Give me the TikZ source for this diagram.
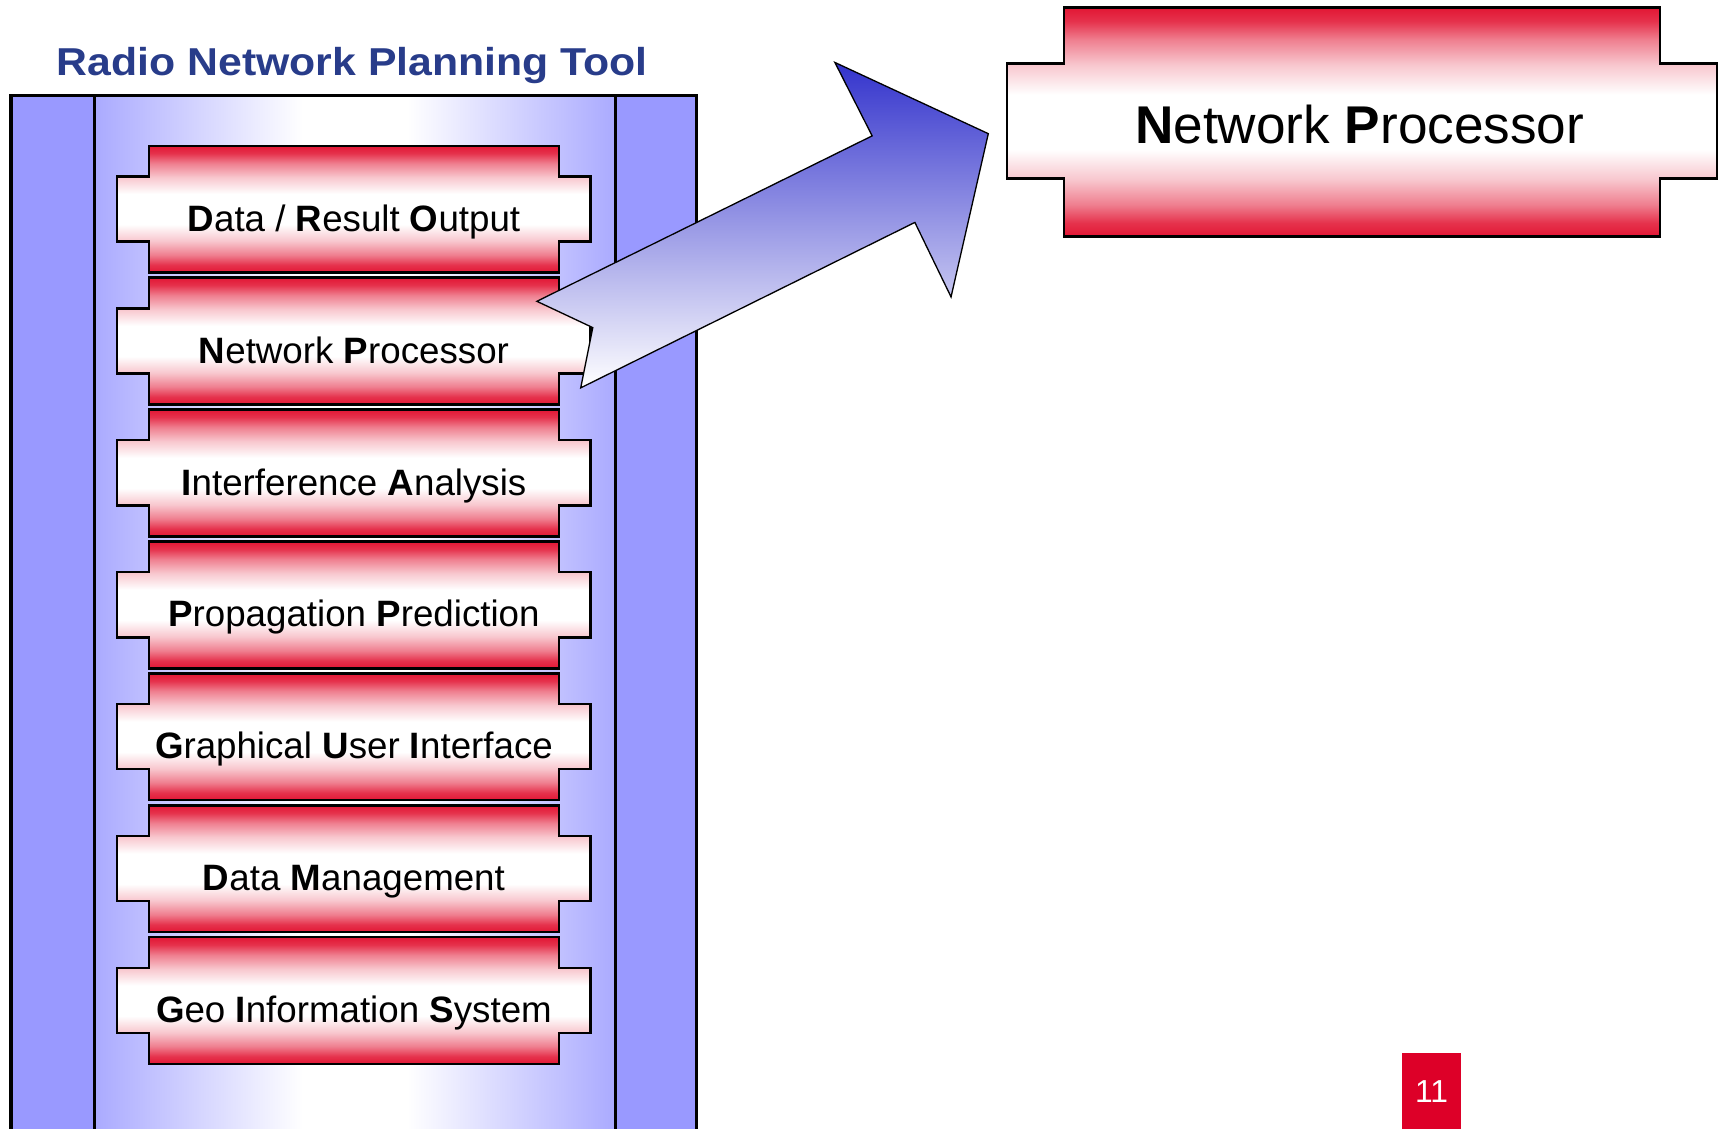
\documentclass[tikz,border=0pt]{standalone}
\usepackage{fontspec}
\setmainfont{Liberation Sans}
\definecolor{boxred}{RGB}{226,22,52}
\definecolor{stripblue}{RGB}{153,153,255}
\definecolor{paneledge}{RGB}{170,170,255}
\definecolor{titleblue}{RGB}{40,60,138}
\definecolor{arrowblue}{RGB}{51,51,204}
\definecolor{pagered}{RGB}{221,0,40}
\pgfdeclareverticalshading{modshade}{100bp}{color(0bp)=(boxred); color(25bp)=(boxred); color(28bp)=(boxred!88); color(32bp)=(boxred!55); color(37.5bp)=(boxred!24); color(44bp)=(white); color(56bp)=(white); color(62.5bp)=(boxred!24); color(68bp)=(boxred!55); color(72bp)=(boxred!88); color(75bp)=(boxred); color(100bp)=(boxred)}
\pgfdeclarehorizontalshading{panelshade}{100bp}{color(0bp)=(paneledge); color(25bp)=(paneledge); color(37bp)=(paneledge!40); color(45bp)=(white); color(55bp)=(white); color(63bp)=(paneledge!40); color(75bp)=(paneledge); color(100bp)=(paneledge)}
\tikzset{
  modstyle/.style={draw=black, line width=2.2pt, shading=modshade},
  modtext/.style={anchor=base, inner sep=0pt, font=\fontsize{33.5}{40}\selectfont},
  frameline/.style={draw=black, line width=3pt},
  arrowshape/.style={draw=black, line width=1.2pt, top color=arrowblue, bottom color=white}
}
\newcommand\rnpbox[3]{%
  \path[modstyle] (136,#2) -- (510,#2) -- (510,#2+28) -- (539,#2+28) -- (539,#2+87.5) -- (510,#2+87.5) -- (510,#2+115.8) -- (136,#2+115.8) -- (136,#2+87.5) -- (107,#2+87.5) -- (107,#2+28) -- (136,#2+28) -- cycle;
  \node[modtext] (#1) at (323,#2+78) {#3};
}
\begin{document}
\begin{tikzpicture}[x=1pt,y=-1pt]
\useasboundingbox (0,0) rectangle (1568,1030);
\clip (0,0) rectangle (1568,1030);
% tool frame
\fill[stripblue] (10,87) rectangle (86,1045);
\fill[stripblue] (562,87) rectangle (636,1045);
\shade[shading=panelshade] (86,87) rectangle (562,1045);
\draw[frameline] (10,1045) -- (10,87) -- (636,87) -- (636,1045);
\draw[frameline] (86,87) -- (86,1045);
\draw[frameline] (562,87) -- (562,1045);
% title
\node[anchor=base, inner sep=0pt, xscale=1.1, text=titleblue, font=\bfseries\fontsize{35.5}{42}\selectfont] (title) at (321.5,69.2) {Radio Network Planning Tool};
% modules
\rnpbox{m1}{133}{\textbf{D}ata / \textbf{R}esult \textbf{O}utput}
\rnpbox{m2}{253.4}{\textbf{N}etwork \textbf{P}rocessor}
\rnpbox{m3}{373.8}{\textbf{I}nterference \textbf{A}nalysis}
\rnpbox{m4}{494.2}{\textbf{P}ropagation \textbf{P}rediction}
\rnpbox{m5}{614.6}{\textbf{G}raphical \textbf{U}ser \textbf{I}nterface}
\rnpbox{m6}{735}{\textbf{D}ata \textbf{M}anagement}
\rnpbox{m7}{855.4}{\textbf{G}eo \textbf{I}nformation \textbf{S}ystem}
% big box
\path[modstyle, line width=2.5pt] (971,7) -- (1515,7) -- (1515,58) -- (1567,58) -- (1567,163) -- (1515,163) -- (1515,216) -- (971,216) -- (971,163) -- (919,163) -- (919,58) -- (971,58) -- cycle;
\node[anchor=base, inner sep=0pt, font=\fontsize{48.5}{58}\selectfont] (np) at (1241,130.8) {\textbf{N}etwork \textbf{P}rocessor};
% block arrow
\path[arrowshape] (490,275) -- (796,124) -- (762,57) -- (902,122) -- (868,271) -- (835,203) -- (530,354) -- (541,299) -- cycle;
% page number
\fill[pagered] (1280,961) rectangle (1333,1045);
\node[anchor=base, inner sep=0pt, text=white, font=\fontsize{29}{34}\selectfont] (pg) at (1306.5,1006.4) {11};
\end{tikzpicture}
\end{document}
